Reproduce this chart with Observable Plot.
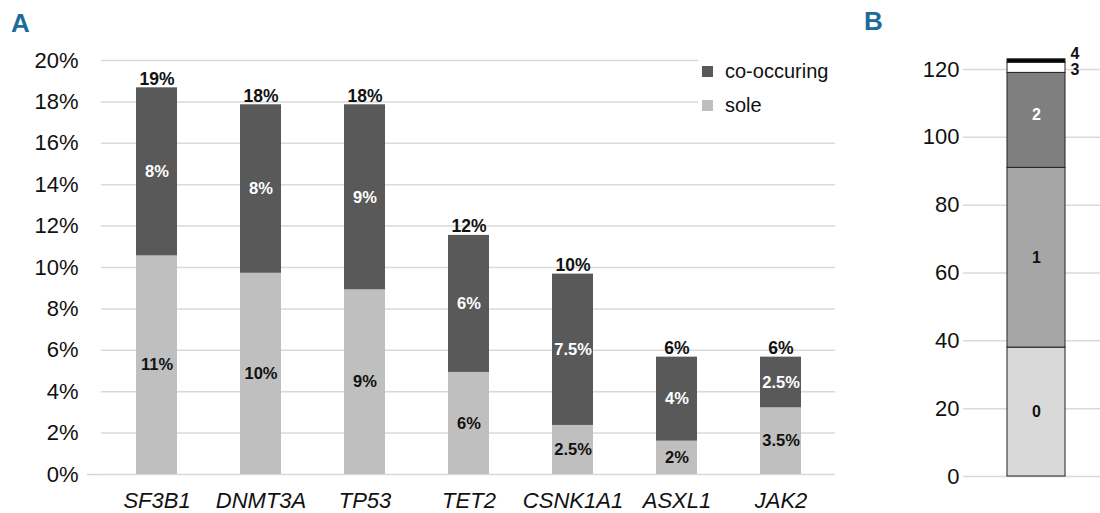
<!DOCTYPE html>
<html><head><meta charset="utf-8">
<script src="https://cdn.jsdelivr.net/npm/d3@7"></script>
<script src="https://cdn.jsdelivr.net/npm/@observablehq/plot@0.6"></script>
<style>
body{margin:0;background:#fff;font-family:"Liberation Sans",Arial,sans-serif;}
#wrap{position:relative;width:1100px;height:513px;overflow:hidden;background:#fff;}
.panel{position:absolute;top:0;}
.plabel{position:absolute;font-family:"Liberation Sans Narrow","Arial Narrow","Liberation Sans",sans-serif;font-weight:bold;color:#1d6b99;font-size:26px;line-height:1;}
#legend{position:absolute;left:698px;top:55px;width:140px;height:62px;background:#fff;}
.lrow{position:absolute;left:4px;height:22px;display:flex;align-items:center;font-size:20px;color:#111;white-space:nowrap;}
.sw{width:11px;height:11px;margin-right:12px;display:inline-block;}
</style></head>
<body>
<div id="wrap">
  <div id="panelA" class="panel" style="left:0"></div>
  <div id="panelB" class="panel" style="left:850px"></div>
  <div class="plabel" style="left:11px;top:10px">A</div>
  <div class="plabel" style="left:864px;top:8px">B</div>
  <div id="legend"></div>
</div>
<script>
// Panel A data
const genes = ["SF3B1","DNMT3A","TP53","TET2","CSNK1A1","ASXL1","JAK2"];
const sole = [10.56, 9.72, 8.92, 4.93, 2.37, 1.61, 3.22];
const coOccurring = [8.12, 8.14, 8.94, 6.62, 7.31, 4.06, 2.45];
const soleLabels = ["11%","10%","9%","6%","2.5%","2%","3.5%"];
const coLabels = ["8%","8%","9%","6%","7.5%","4%","2.5%"];
const totalLabels = ["19%","18%","18%","12%","10%","6%","6%"];
const seriesNames = ["sole","co-occuring"];
const yTicksA = [0,2,4,6,8,10,12,14,16,18,20];

// Panel B data
const mutCounts = ["0","1","2","3","4"];
const patients = [38, 53, 28, 3, 1];
const yTicksB = [0,20,40,60,80,100,120];

const narrow = "'Liberation Sans Narrow','Arial Narrow','Liberation Sans',sans-serif";
const base = "'Liberation Sans',Arial,sans-serif";

const dataA = [];
genes.forEach((g,i)=>dataA.push({gene:g, series:"sole", value:sole[i], label:soleLabels[i]}));
genes.forEach((g,i)=>dataA.push({gene:g, series:"co-occuring", value:coOccurring[i], label:coLabels[i]}));
const totals = genes.map((g,i)=>({gene:g, total:sole[i]+coOccurring[i], label:totalLabels[i]}));

const colorsA = ["#bfbfbf","#595959"];

const plotA = Plot.plot({
  width:850, height:513,
  marginLeft:101, marginRight:15, marginTop:60, marginBottom:39,
  style:{fontFamily:base, background:"transparent", color:"#111"},
  x:{domain:genes, paddingInner:0.61, paddingOuter:0.305, label:null},
  y:{domain:[0,20], label:null},
  color:{domain:seriesNames, range:colorsA},
  marks:[
    Plot.gridY({ticks:yTicksA, stroke:"#d9d9d9", strokeOpacity:1, strokeWidth:1.5}),
    Plot.axisY({ticks:[0], tickSize:14, tickFormat:()=>"", stroke:"#d4d4d4", strokeWidth:1.5, label:null}),
    Plot.axisY({ticks:yTicksA, tickFormat:d=>d+"%", tickSize:0, tickPadding:23, fontSize:22, label:null}),
    Plot.axisX({tickSize:0, tickPadding:18, fontSize:22, fontStyle:"italic", label:null}),
    Plot.barY(dataA, {x:"gene", y:"value", fill:"series"}),
    Plot.text(dataA, Plot.stackY({x:"gene", y:"value", z:"series",
      text:d=>d.series==="sole"?d.label:"", fill:"#111", fontWeight:"bold", fontSize:16.5, fontFamily:narrow})),
    Plot.text(dataA, Plot.stackY({x:"gene", y:"value", z:"series",
      text:d=>d.series==="co-occuring"?d.label:"", fill:"#fff", fontWeight:"bold", fontSize:16.5, fontFamily:narrow})),
    Plot.text(totals, {x:"gene", y:"total", text:"label", lineAnchor:"bottom", dy:-3, fontWeight:"bold", fontSize:17.5, fill:"#111"})
  ]
});
document.getElementById("panelA").appendChild(plotA);

// legend (drawn from series names / colours, top item = top of stack)
const leg = document.getElementById("legend");
[["co-occuring",colorsA[1]],["sole",colorsA[0]]].forEach(([name,col],i)=>{
  const r = document.createElement("div");
  r.className="lrow"; r.style.top=(5+i*34)+"px";
  r.innerHTML = `<span class="sw" style="background:${col}"></span><span>${name}</span>`;
  leg.appendChild(r);
});

const dataB = mutCounts.map((c,i)=>({group:"all", count:c, value:patients[i]}));
const plotB = Plot.plot({
  width:250, height:513,
  marginLeft:113, marginRight:0, marginTop:69, marginBottom:37,
  style:{fontFamily:base, background:"transparent", color:"#111"},
  x:{domain:["all"], paddingInner:0, paddingOuter:0.681, align:0.553, axis:null},
  y:{domain:[0,120], label:null},
  color:{domain:mutCounts, range:["#d9d9d9","#a6a6a6","#7f7f7f","#ffffff","#000000"]},
  marks:[
    Plot.gridY({ticks:yTicksB, stroke:"#d9d9d9", strokeOpacity:1, strokeWidth:1.5}),
    Plot.axisY({ticks:yTicksB, tickSize:0, tickPadding:4, fontSize:22, label:null}),
    Plot.barY(dataB, {x:"group", y:"value", fill:"count", stroke:"#222", strokeWidth:1}),
    Plot.text(dataB, Plot.stackY({x:"group", y:"value", z:"count",
      text:d=>(d.count==="0"||d.count==="1")?d.count:"", fill:"#111", fontWeight:"bold", fontSize:16, fontFamily:narrow})),
    Plot.text(dataB, Plot.stackY({x:"group", y:"value", z:"count",
      text:d=>d.count==="2"?d.count:"", dy:-6, fill:"#fff", fontWeight:"bold", fontSize:16, fontFamily:narrow})),
    Plot.text(dataB, Plot.stackY({x:"group", y:"value", z:"count",
      text:d=>d.count==="4"?d.count:"", textAnchor:"start", dx:34, dy:-7, fill:"#111", fontWeight:"bold", fontSize:16, fontFamily:narrow})),
    Plot.text(dataB, Plot.stackY({x:"group", y:"value", z:"count",
      text:d=>d.count==="3"?d.count:"", textAnchor:"start", dx:34, dy:2, fill:"#111", fontWeight:"bold", fontSize:16, fontFamily:narrow}))
  ]
});
document.getElementById("panelB").appendChild(plotB);
</script>
</body></html>
